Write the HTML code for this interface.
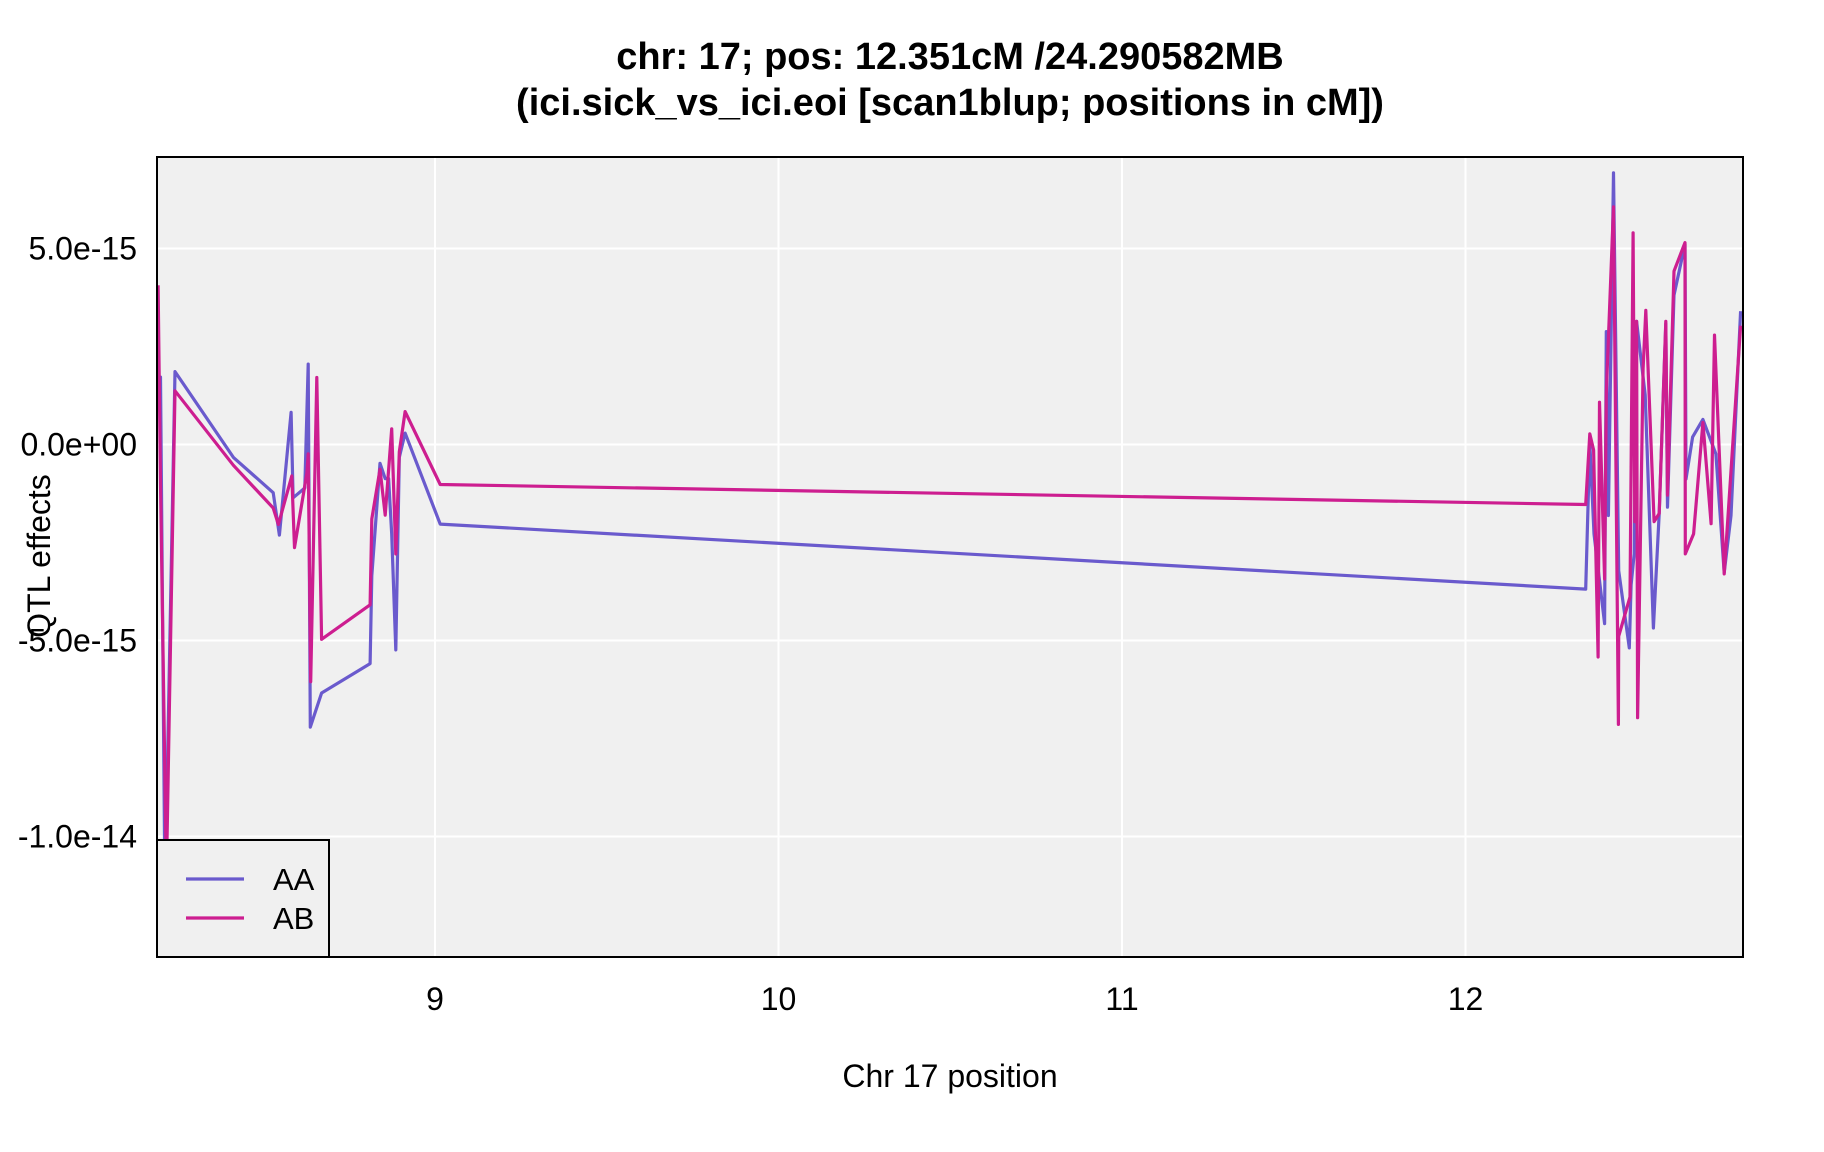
<!DOCTYPE html>
<html><head><meta charset="utf-8"><style>
html,body{margin:0;padding:0;background:#fff;}
svg{display:block;font-family:"Liberation Sans",Arial,sans-serif;}
</style></head><body>
<svg id="chart" width="1824" height="1152" viewBox="0 0 1824 1152">
<text x="950" y="69" text-anchor="middle" font-size="38" font-weight="bold">chr: 17; pos: 12.351cM /24.290582MB</text>
<text x="950" y="115" text-anchor="middle" font-size="38" font-weight="bold">(ici.sick_vs_ici.eoi [scan1blup; positions in cM])</text>
<defs><clipPath id="pc"><rect x="157" y="157" width="1586" height="800"/></clipPath></defs>
<rect x="157" y="157" width="1586" height="800" fill="#f0f0f0"/>
<g id="grid"></g>
<g id="series" clip-path="url(#pc)"></g>
<g id="legend">
<rect x="157" y="840" width="172" height="117" fill="#f0f0f0" stroke="#000" stroke-width="2"/>
<line x1="186" y1="879" x2="244" y2="879" stroke="#6A5ACD" stroke-width="3.2"/>
<text x="273" y="890" font-size="31">AA</text>
<line x1="186" y1="918" x2="244" y2="918" stroke="#CD1E90" stroke-width="3.2"/>
<text x="273" y="929" font-size="31">AB</text>
</g>
<rect x="157" y="157" width="1586" height="800" fill="none" stroke="#000" stroke-width="2"/>
<g id="axes"></g>
<text x="950" y="1087" text-anchor="middle" font-size="32">Chr 17 position</text>
<text transform="translate(50,556) rotate(-90)" text-anchor="middle" font-size="32">QTL effects</text>
</svg>
<script>
const xTicks = [9, 10, 11, 12];
const yTicks = [5e-15, 0, -5e-15, -1e-14];
const yTickLabels = ["5.0e-15", "0.0e+00", "-5.0e-15", "-1.0e-14"];
const aaX = [8.19,8.201,8.214,8.243,8.413,8.529,8.547,8.581,8.587,8.621,8.631,8.637,8.670,8.811,8.816,8.840,8.855,8.865,8.874,8.886,8.896,8.913,9.015,12.350,12.362,12.374,12.405,12.410,12.416,12.431,12.446,12.477,12.482,12.491,12.498,12.523,12.547,12.564,12.583,12.588,12.607,12.639,12.642,12.661,12.691,12.729,12.753,12.773,12.801];
const aaY = [1.72,1.72,-11.5,1.86,-0.33,-1.23,-2.31,0.82,-1.36,-1.11,2.05,-7.21,-6.34,-5.59,-3.35,-0.48,-0.87,-0.87,-2.28,-5.24,-0.33,0.29,-2.03,-3.69,0.06,-2.28,-4.57,2.88,-1.81,6.93,-3.22,-5.19,-3.58,-2.79,3.14,1.26,-4.68,-1.76,3.08,-1.60,3.81,5.11,-0.88,0.19,0.64,-0.24,-3.27,-1.81,3.40].map(v=>v*1e-15);
const abX = [8.194,8.201,8.218,8.243,8.413,8.529,8.544,8.583,8.591,8.627,8.631,8.638,8.656,8.670,8.811,8.816,8.840,8.855,8.874,8.886,8.896,8.913,9.015,12.350,12.362,12.373,12.386,12.390,12.405,12.410,12.431,12.445,12.446,12.479,12.488,12.493,12.498,12.501,12.517,12.525,12.549,12.564,12.583,12.588,12.607,12.639,12.640,12.664,12.691,12.715,12.725,12.753,12.801];
const abY = [4.06,-1.0,-11.0,1.37,-0.53,-1.62,-2.04,-0.80,-2.63,-0.73,-0.24,-6.05,1.71,-4.97,-4.09,-1.90,-0.63,-1.80,0.40,-2.79,-0.19,0.84,-1.02,-1.53,0.27,-0.14,-5.42,1.08,-3.43,1.31,6.06,-7.14,-4.89,-3.89,5.40,-1.97,3.14,-6.97,1.94,3.42,-1.97,-1.76,3.14,-1.29,4.42,5.15,-2.79,-2.28,0.56,-2.02,2.79,-3.30,3.03].map(v=>v*1e-15);

const NS="http://www.w3.org/2000/svg";
const L=157,R=1743,T=157,B=957;
function sx(v){return 435+(v-9)*343.5;}
function sy(v){return 444.5-v/5e-15*196;}
const grid=document.getElementById('grid'), axes=document.getElementById('axes'), series=document.getElementById('series');
xTicks.forEach(t=>{
  const l=document.createElementNS(NS,'line');
  l.setAttribute('x1',sx(t));l.setAttribute('x2',sx(t));l.setAttribute('y1',T);l.setAttribute('y2',B);
  l.setAttribute('stroke','#fff');l.setAttribute('stroke-width','2');
  
  
  grid.appendChild(l);
  const tx=document.createElementNS(NS,'text');
  tx.setAttribute('x',sx(t));tx.setAttribute('y',1010);tx.setAttribute('text-anchor','middle');tx.setAttribute('font-size','32');
  tx.textContent=String(t);
  
  
  axes.appendChild(tx);
});
yTicks.forEach((t,i)=>{
  const l=document.createElementNS(NS,'line');
  l.setAttribute('x1',L);l.setAttribute('x2',R);l.setAttribute('y1',sy(t));l.setAttribute('y2',sy(t));
  l.setAttribute('stroke','#fff');l.setAttribute('stroke-width','2');
  
  
  grid.appendChild(l);
  const tx=document.createElementNS(NS,'text');
  tx.setAttribute('x',137);tx.setAttribute('y',sy(t)+11);tx.setAttribute('text-anchor','end');tx.setAttribute('font-size','32');
  tx.textContent=yTickLabels[i];
  
  
  axes.appendChild(tx);
});
function drawLine(xs,ys,color,name){
  const p=document.createElementNS(NS,'polyline');
  p.setAttribute('points',xs.map((x,i)=>sx(x).toFixed(1)+','+sy(ys[i]).toFixed(1)).join(' '));
  p.setAttribute('fill','none');p.setAttribute('stroke',color);p.setAttribute('stroke-width','3.2');p.setAttribute('stroke-linejoin','round');
  
  
  series.appendChild(p);
}
drawLine(aaX,aaY,'#6A5ACD','series-aa-line');
drawLine(abX,abY,'#CD1E90','series-ab-line');
</script>
</body></html>
